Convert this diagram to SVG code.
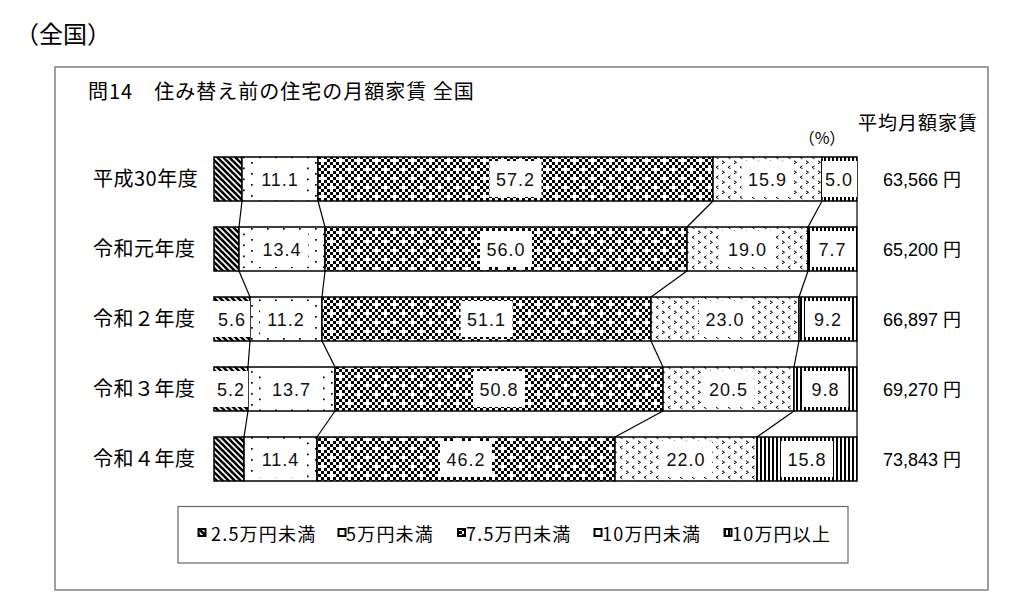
<svg xmlns="http://www.w3.org/2000/svg" width="1024" height="601" viewBox="0 0 1024 601">
<style>
.jp{font-family:"Noto Sans CJK JP","Liberation Sans",sans-serif;fill:#000}
.num{font-family:"Liberation Sans","Noto Sans CJK JP",sans-serif;fill:#000}
.lbl{font-family:"Liberation Sans",sans-serif;font-size:18px;letter-spacing:1px;text-anchor:middle;fill:#111}
.seg{stroke:#000;stroke-width:1.5}
.s1{fill:url(#pDiag)}.s2{fill:url(#pDot)}.s3{fill:url(#p75)}.s4{fill:url(#pChev)}.s5{fill:url(#pVert)}
.box{fill:#fff}
.con line{stroke:#000;stroke-width:1.2}
.ic{stroke:#000;stroke-width:2}
.lg{font-size:18px;letter-spacing:1.2px}
</style>
<defs>
<pattern id="pDiag" patternUnits="userSpaceOnUse" width="6" height="6">
<rect width="6" height="6" fill="#fff"/>
<path d="M-1,-1 L7,7 M-1,5 L1,7 M5,-1 L7,1" stroke="#000" stroke-width="2.6"/>
</pattern>
<pattern id="pDot" patternUnits="userSpaceOnUse" width="16" height="11">
<rect width="16" height="11" fill="#fff"/>
<rect x="3" y="2.5" width="1.7" height="1.7" fill="#000"/>
<rect x="11" y="8" width="1.7" height="1.7" fill="#000"/>
</pattern>
<pattern id="p75" patternUnits="userSpaceOnUse" width="18" height="18">
<rect width="18" height="18" fill="#fff"/>
<path fill="#000" d="M0,0h3v3h-3z M6,0h3v3h-3z M12,0h3v3h-3z M3,3h3v3h-3z M9,3h3v3h-3z M15,3h3v3h-3z M0,6h3v3h-3z M12,6h3v3h-3z M3,9h3v3h-3z M9,9h3v3h-3z M15,9h3v3h-3z M0,12h3v3h-3z M6,12h3v3h-3z M12,12h3v3h-3z M3,15h3v3h-3z M9,15h3v3h-3z"/>
</pattern>
<pattern id="pChev" patternUnits="userSpaceOnUse" width="12" height="10">
<rect width="12" height="10" fill="#fff"/>
<path d="M2,0.8 L4.5,2.3 L2,3.8 M10.5,5.8 L8,7.3 L10.5,8.8" stroke="#000" stroke-width="1" fill="none"/>
</pattern>
<pattern id="pVert" patternUnits="userSpaceOnUse" width="4" height="4">
<rect width="4" height="4" fill="#fff"/>
<rect width="2" height="4" fill="#000"/>
</pattern>
</defs>
<rect width="1024" height="601" fill="#fff"/>
<text class="jp" x="15" y="43" font-size="24">（全国）</text>
<rect x="55" y="67" width="933" height="523" fill="none" stroke="#808080" stroke-width="1.5"/>
<text class="jp" x="88" y="99" font-size="20" letter-spacing="1">問14　住み替え前の住宅の月額家賃 全国</text>
<text class="jp" x="858" y="130" font-size="19" letter-spacing="1">平均月額家賃</text>
<text class="jp" x="822" y="143.5" font-size="16" text-anchor="middle">（%）</text>

<g id="row1">
<text class="jp" x="93" y="186" font-size="20" letter-spacing="0.5">平成30年度</text>
<rect class="seg s1" x="214" y="157" width="28" height="44"/>
<rect class="seg s2" x="242" y="157" width="76" height="44"/>
<rect class="seg s3" x="318" y="157" width="395" height="44"/>
<rect class="seg s4" x="713" y="157" width="109" height="44"/>
<rect class="seg s5" x="822" y="157" width="35" height="44"/>
<rect class="box" x="254" y="161" width="52" height="36"/>
<rect class="box" x="489.5" y="161" width="52" height="36"/>
<rect class="box" x="741.5" y="161" width="52" height="36"/>
<rect class="box" x="822" y="161" width="35" height="36"/>
<text class="lbl" x="280" y="186">11.1</text>
<text class="lbl" x="515.5" y="186">57.2</text>
<text class="lbl" x="767.5" y="186">15.9</text>
<text class="lbl" x="839" y="186">5.0</text>
<text class="num" x="883" y="186" font-size="18">63,566 円</text>
</g>

<g id="row2">
<text class="jp" x="93" y="256" font-size="20" letter-spacing="0.5">令和元年度</text>
<rect class="seg s1" x="214" y="227" width="25" height="44"/>
<rect class="seg s2" x="239" y="227" width="86" height="44"/>
<rect class="seg s3" x="325" y="227" width="362" height="44"/>
<rect class="seg s4" x="687" y="227" width="121" height="44"/>
<rect class="seg s5" x="808" y="227" width="49" height="44"/>
<rect class="box" x="256" y="231" width="52" height="36"/>
<rect class="box" x="480" y="231" width="52" height="36"/>
<rect class="box" x="721.5" y="231" width="52" height="36"/>
<rect class="box" x="810" y="231" width="45" height="36"/>
<text class="lbl" x="282" y="256">13.4</text>
<text class="lbl" x="506" y="256">56.0</text>
<text class="lbl" x="747.5" y="256">19.0</text>
<text class="lbl" x="832.5" y="256">7.7</text>
<text class="num" x="883" y="256" font-size="18">65,200 円</text>
</g>

<g id="row3">
<text class="jp" x="93" y="326" font-size="20" letter-spacing="0.5">令和２年度</text>
<rect class="seg s1" x="214" y="297" width="36" height="44"/>
<rect class="seg s2" x="250" y="297" width="72" height="44"/>
<rect class="seg s3" x="322" y="297" width="329" height="44"/>
<rect class="seg s4" x="651" y="297" width="148" height="44"/>
<rect class="seg s5" x="799" y="297" width="58" height="44"/>
<rect class="box" x="213" y="301" width="37" height="36"/>
<rect class="box" x="260" y="301" width="52" height="36"/>
<rect class="box" x="460.5" y="301" width="52" height="36"/>
<rect class="box" x="699" y="301" width="52" height="36"/>
<rect class="box" x="805" y="301" width="46" height="36"/>
<text class="lbl" x="232" y="326">5.6</text>
<text class="lbl" x="286" y="326">11.2</text>
<text class="lbl" x="486.5" y="326">51.1</text>
<text class="lbl" x="725" y="326">23.0</text>
<text class="lbl" x="828" y="326">9.2</text>
<text class="num" x="883" y="326" font-size="18">66,897 円</text>
</g>

<g id="row4">
<text class="jp" x="93" y="396" font-size="20" letter-spacing="0.5">令和３年度</text>
<rect class="seg s1" x="214" y="367" width="34" height="44"/>
<rect class="seg s2" x="248" y="367" width="87" height="44"/>
<rect class="seg s3" x="335" y="367" width="328" height="44"/>
<rect class="seg s4" x="663" y="367" width="131" height="44"/>
<rect class="seg s5" x="794" y="367" width="63" height="44"/>
<rect class="box" x="213" y="371" width="35" height="36"/>
<rect class="box" x="265.5" y="371" width="52" height="36"/>
<rect class="box" x="473" y="371" width="52" height="36"/>
<rect class="box" x="702.5" y="371" width="52" height="36"/>
<rect class="box" x="802.5" y="371" width="46" height="36"/>
<text class="lbl" x="231" y="396">5.2</text>
<text class="lbl" x="291.5" y="396">13.7</text>
<text class="lbl" x="499" y="396">50.8</text>
<text class="lbl" x="728.5" y="396">20.5</text>
<text class="lbl" x="825.5" y="396">9.8</text>
<text class="num" x="883" y="396" font-size="18">69,270 円</text>
</g>

<g id="row5">
<text class="jp" x="93" y="466" font-size="20" letter-spacing="0.5">令和４年度</text>
<rect class="seg s1" x="214" y="437" width="30" height="44"/>
<rect class="seg s2" x="244" y="437" width="73" height="44"/>
<rect class="seg s3" x="317" y="437" width="298" height="44"/>
<rect class="seg s4" x="615" y="437" width="142" height="44"/>
<rect class="seg s5" x="757" y="437" width="100" height="44"/>
<rect class="box" x="254.5" y="441" width="52" height="36"/>
<rect class="box" x="440" y="441" width="52" height="36"/>
<rect class="box" x="660" y="441" width="52" height="36"/>
<rect class="box" x="781" y="441" width="52" height="36"/>
<text class="lbl" x="280.5" y="466">11.4</text>
<text class="lbl" x="466" y="466">46.2</text>
<text class="lbl" x="686" y="466">22.0</text>
<text class="lbl" x="807" y="466">15.8</text>
<text class="num" x="883" y="466" font-size="18">73,843 円</text>
</g>

<g id="connectors" class="con">
<line x1="242" y1="201" x2="239" y2="227"/>
<line x1="318" y1="201" x2="325" y2="227"/>
<line x1="713" y1="201" x2="687" y2="227"/>
<line x1="822" y1="201" x2="808" y2="227"/>
<line x1="857" y1="201" x2="857" y2="227"/>
<line x1="239" y1="271" x2="250" y2="297"/>
<line x1="325" y1="271" x2="322" y2="297"/>
<line x1="687" y1="271" x2="651" y2="297"/>
<line x1="808" y1="271" x2="799" y2="297"/>
<line x1="857" y1="271" x2="857" y2="297"/>
<line x1="250" y1="341" x2="248" y2="367"/>
<line x1="322" y1="341" x2="335" y2="367"/>
<line x1="651" y1="341" x2="663" y2="367"/>
<line x1="799" y1="341" x2="794" y2="367"/>
<line x1="857" y1="341" x2="857" y2="367"/>
<line x1="248" y1="411" x2="244" y2="437"/>
<line x1="335" y1="411" x2="317" y2="437"/>
<line x1="663" y1="411" x2="615" y2="437"/>
<line x1="794" y1="411" x2="757" y2="437"/>
<line x1="857" y1="411" x2="857" y2="437"/>
</g>

<g id="legend">
<rect x="178" y="506.5" width="670" height="56.5" fill="#fff" stroke="#666" stroke-width="1.2"/>
<rect class="ic s1" x="198.5" y="529" width="7" height="7"/>
<text class="jp lg" x="211" y="541">2.5万円未満</text>
<rect class="ic" fill="#fff" x="338.5" y="529" width="7" height="7"/>
<text class="jp lg" x="346" y="541">5万円未満</text>
<rect class="ic s3" x="458" y="529" width="7" height="7"/>
<text class="jp lg" x="466" y="541">7.5万円未満</text>
<rect class="ic s4" x="594.5" y="529" width="7" height="7"/>
<text class="jp lg" x="602" y="541">10万円未満</text>
<rect class="ic s5" x="724.5" y="529" width="7" height="7"/>
<text class="jp lg" x="732" y="541">10万円以上</text>
</g>
</svg>
